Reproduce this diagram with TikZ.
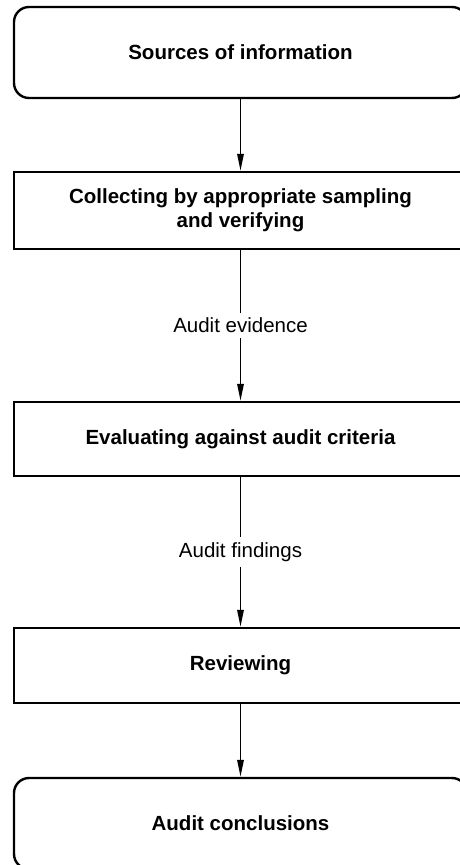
\documentclass[tikz,border=0pt]{standalone}
\usepackage{fontspec}
\setmainfont{Liberation Sans}
\usetikzlibrary{arrows.meta}

\begin{document}
\begin{tikzpicture}[x=1pt,y=-1pt,
    term/.style={draw,line width=2.4pt,rounded corners=15pt,inner sep=0pt,minimum width=453pt,align=center,font=\fontsize{20.5}{24}\selectfont\bfseries},
    proc/.style={draw,line width=2.4pt,inner sep=0pt,minimum width=453pt,align=center,font=\fontsize{20.5}{24}\selectfont\bfseries},
    arc/.style={draw,line width=1.6pt,-{Triangle[length=17pt,width=6.5pt]}},
    tag/.style={fill=white,inner sep=5pt,font=\fontsize{20.5}{24}\selectfont}]
    \useasboundingbox (0,0) rectangle (459,865);

    \node[term,minimum height=91pt] (src) at (240.5,52.5) {Sources of information};
    \node[proc,minimum height=77pt] (collect) at (240.5,210.5) {Collecting by appropriate sampling\\and verifying};
    \node[proc,minimum height=74pt] (eval) at (240.5,439) {Evaluating against audit criteria};
    \node[proc,minimum height=75pt] (review) at (240.5,665.5) {Reviewing};
    \node[term,minimum height=91pt] (concl) at (240.5,823.5) {Audit conclusions};

    \draw[arc] (src) -- (collect);
    \draw[arc] (collect) -- node[tag] {Audit evidence} (eval);
    \draw[arc] (eval) -- node[tag] {Audit findings} (review);
    \draw[arc] (review) -- (concl);
\end{tikzpicture}
\end{document}
